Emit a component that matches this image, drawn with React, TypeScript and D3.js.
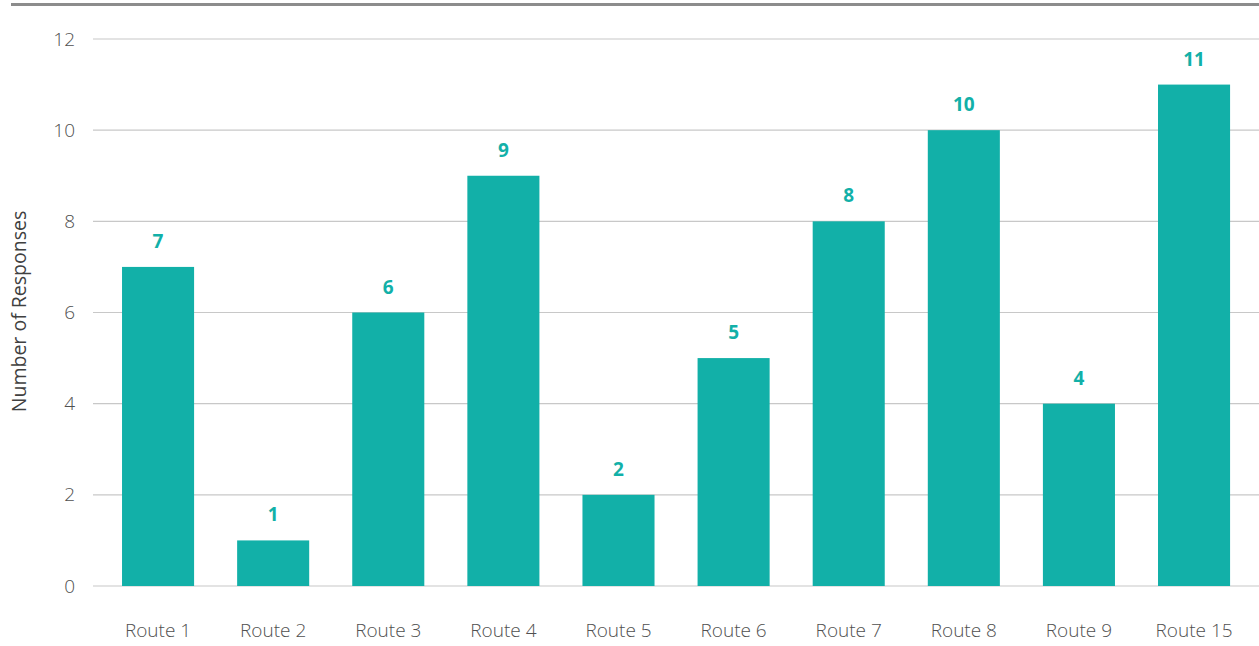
import React from "react";
import * as d3 from "d3";

const categories = ["Route 1", "Route 2", "Route 3", "Route 4", "Route 5", "Route 6", "Route 7", "Route 8", "Route 9", "Route 15"];
const values = [7, 1, 6, 9, 2, 5, 8, 10, 4, 11];
const yTicks = [0, 2, 4, 6, 8, 10, 12];

export default function App() {
  const W = 1259, H = 646;
  const x = d3.scaleBand<string>().domain(categories).range([100.5, 1251.6]).paddingInner(0.374).paddingOuter(0.187);
  const y = d3.scaleLinear().domain([0, 12]).range([586, 39]);
  const font = "'Open Sans', 'Noto Sans', sans-serif";
  const teal = "#12b0a8";
  return (
    <svg width={W} height={H} style={{ position: "absolute", left: 0, top: 0 }} fontFamily={font}>
      <line x1={11} x2={W} y1={4.5} y2={4.5} stroke="#8c8c8c" strokeWidth={3} />
      {yTicks.map((t) => (
        <g key={t}>
          <line x1={93} x2={W} y1={y(t)} y2={y(t)} stroke="#c8c8c8" strokeWidth={1.2} />
          <text x={75} y={y(t)} dy="0.35em" textAnchor="end" fontSize={19} fill="#505050" fontWeight={300}>{t}</text>
        </g>
      ))}
      {categories.map((c, i) => (
        <g key={c}>
          <rect x={x(c)} y={y(values[i])} width={x.bandwidth()} height={y(0) - y(values[i])} fill={teal} />
          <text x={(x(c) as number) + x.bandwidth() / 2} y={y(values[i]) - 19} textAnchor="middle" fontSize={19} fontWeight={700} fill={teal}>{values[i]}</text>
          <text x={(x(c) as number) + x.bandwidth() / 2} y={630} dy="0.35em" textAnchor="middle" fontSize={19} fill="#505050" fontWeight={300}>{c}</text>
        </g>
      ))}
      <text transform={`translate(26,${y(6) - 1}) rotate(-90)`} textAnchor="middle" fontSize={19.5} fill="#404040">Number of Responses</text>
    </svg>
  );
}
